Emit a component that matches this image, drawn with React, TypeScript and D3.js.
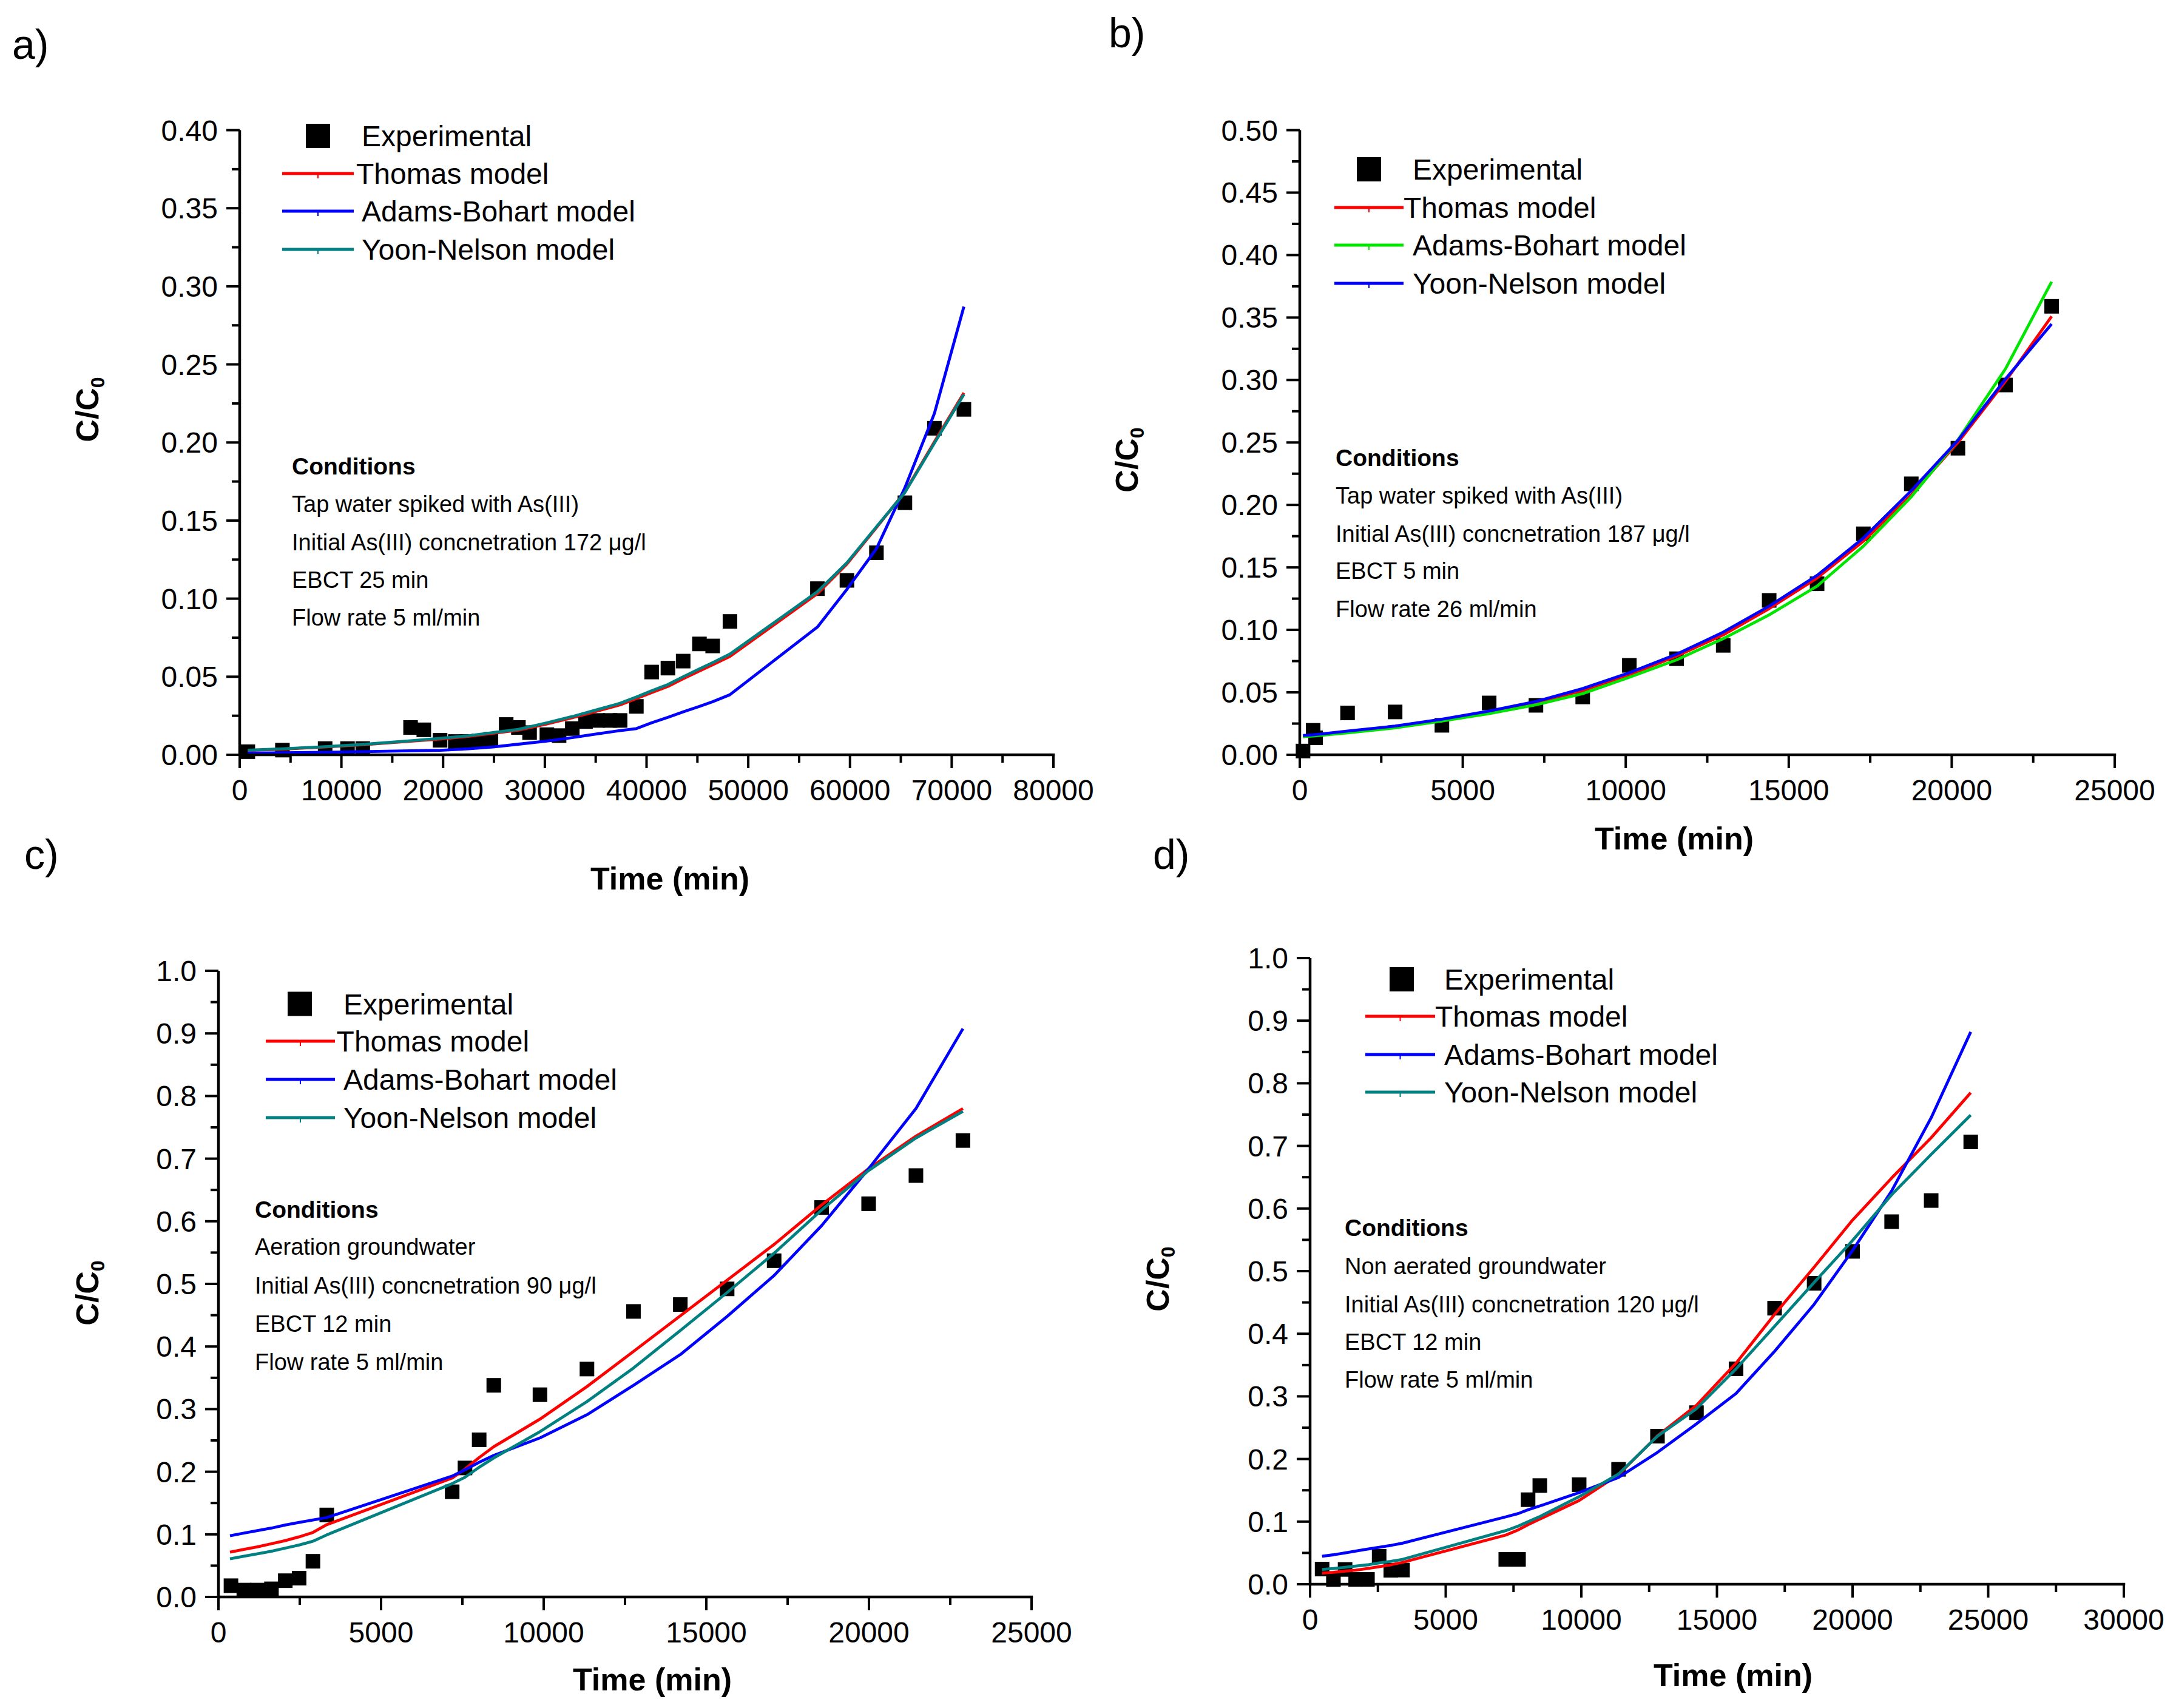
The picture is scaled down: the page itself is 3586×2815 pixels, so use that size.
import React from 'react';
import * as d3 from 'd3';

const FONT = '"Liberation Sans", Arial, Helvetica, sans-serif';

// ---- panel a) ----
const aExpTime = [800, 4200, 8400, 10600, 12100, 16800, 18100, 19700, 21200, 22400, 23500, 24700, 26200, 27400, 28500, 30200, 31400, 32700, 34000, 35200, 36400, 37400, 39000, 40500, 42100, 43600, 45200, 46500, 48200, 56800, 59700, 62600, 65400, 68300, 71200];
const aExpC = [0.002, 0.003, 0.004, 0.004, 0.004, 0.0175, 0.016, 0.0093, 0.0085, 0.0085, 0.0088, 0.010, 0.0194, 0.0175, 0.0142, 0.0129, 0.0123, 0.0168, 0.0213, 0.022, 0.022, 0.022, 0.031, 0.053, 0.0555, 0.060, 0.071, 0.0697, 0.0854, 0.1064, 0.1117, 0.1294, 0.1614, 0.2091, 0.2212];
const aModelTime = [800, 4200, 8400, 12000, 16800, 19700, 22500, 24900, 27400, 30200, 32700, 35200, 37400, 39000, 40500, 42100, 43600, 45200, 46500, 48200, 56800, 59700, 62600, 65400, 68300, 71200];
const aThomas = [0.0028, 0.0036, 0.005, 0.0064, 0.0087, 0.0101, 0.0118, 0.0137, 0.0158, 0.0198, 0.0237, 0.0281, 0.032, 0.036, 0.0398, 0.0438, 0.0487, 0.0537, 0.0577, 0.063, 0.1032, 0.1222, 0.1455, 0.1683, 0.2004, 0.2318];
const aAdams = [0.001, 0.0013, 0.0016, 0.002, 0.0026, 0.0029, 0.0038, 0.005, 0.0068, 0.0088, 0.011, 0.0135, 0.0155, 0.0168, 0.0205, 0.024, 0.0275, 0.031, 0.034, 0.0385, 0.0818, 0.106, 0.132, 0.171, 0.2186, 0.287];
const aYoon = [0.003, 0.0038, 0.0052, 0.0066, 0.009, 0.0105, 0.0122, 0.0142, 0.0163, 0.0205, 0.0245, 0.029, 0.033, 0.037, 0.041, 0.045, 0.05, 0.055, 0.059, 0.0645, 0.1044, 0.123, 0.146, 0.168, 0.1996, 0.2308];
const aXTicks = [0, 10000, 20000, 30000, 40000, 50000, 60000, 70000, 80000];
const aYTicks = [0, 0.05, 0.1, 0.15, 0.2, 0.25, 0.3, 0.35, 0.4];
const aConditions = ['Tap water spiked with As(III)', 'Initial As(III) concnetration 172 μg/l', 'EBCT 25 min', 'Flow rate 5 ml/min'];

// ---- panel b) ----
const bExpTime = [100, 410, 485, 1466, 2925, 4360, 5810, 7245, 8680, 10110, 11560, 12990, 14400, 15870, 17290, 18760, 20190, 21650, 23065];
const bExpC = [0.003, 0.0196, 0.0136, 0.0335, 0.0343, 0.0236, 0.0415, 0.0396, 0.0463, 0.0716, 0.0769, 0.0876, 0.1236, 0.1369, 0.1769, 0.2169, 0.2454, 0.296, 0.359];
const bModelTime = [100, 410, 1470, 2925, 4360, 5810, 7245, 8680, 10110, 11560, 12990, 14400, 15870, 17290, 18760, 20190, 21650, 23065];
const bThomas = [0.0145, 0.0155, 0.0185, 0.022, 0.0275, 0.034, 0.0415, 0.0515, 0.064, 0.079, 0.096, 0.117, 0.1415, 0.171, 0.208, 0.25, 0.299, 0.351];
const bAdams = [0.0145, 0.015, 0.0175, 0.0215, 0.027, 0.033, 0.04, 0.049, 0.062, 0.076, 0.093, 0.112, 0.135, 0.167, 0.2065, 0.252, 0.309, 0.3787];
const bYoon = [0.0155, 0.016, 0.019, 0.023, 0.0285, 0.035, 0.0427, 0.053, 0.0657, 0.0805, 0.0982, 0.119, 0.1436, 0.1735, 0.2114, 0.2517, 0.3008, 0.3448];
const bXTicks = [0, 5000, 10000, 15000, 20000, 25000];
const bYTicks = [0, 0.05, 0.1, 0.15, 0.2, 0.25, 0.3, 0.35, 0.4, 0.45, 0.5];
const bConditions = ['Tap water spiked with As(III)', 'Initial As(III) concnetration 187 μg/l', 'EBCT 5 min', 'Flow rate 26 ml/min'];

// ---- panel c) ----
const cExpTime = [385, 780, 1000, 1200, 1630, 2055, 2480, 2905, 3330, 7186, 7580, 8016, 8465, 9885, 11330, 12760, 14200, 15640, 17085, 18545, 19990, 21445, 22890];
const cExpC = [0.018, 0.011, 0.01, 0.011, 0.013, 0.026, 0.03, 0.057, 0.131, 0.168, 0.206, 0.251, 0.338, 0.323, 0.364, 0.456, 0.467, 0.492, 0.537, 0.622, 0.628, 0.673, 0.729];
const cModelTime = [355, 780, 1200, 1630, 2055, 2480, 2905, 3326, 7185, 7575, 8012, 8465, 9885, 11330, 12760, 14200, 15640, 17085, 18545, 19990, 21445, 22890];
const cThomas = [0.0716, 0.076, 0.08, 0.085, 0.09, 0.096, 0.103, 0.1154, 0.19, 0.204, 0.2225, 0.24, 0.284, 0.336, 0.392, 0.449, 0.506, 0.563, 0.626, 0.684, 0.736, 0.78];
const cAdams = [0.0977, 0.102, 0.106, 0.11, 0.115, 0.119, 0.123, 0.1267, 0.193, 0.203, 0.215, 0.226, 0.254, 0.291, 0.338, 0.387, 0.448, 0.5135, 0.593, 0.684, 0.78, 0.9076];
const cYoon = [0.061, 0.065, 0.069, 0.073, 0.078, 0.083, 0.089, 0.099, 0.181, 0.191, 0.207, 0.222, 0.264, 0.312, 0.3656, 0.4255, 0.4862, 0.549, 0.618, 0.681, 0.733, 0.7756];
const cXTicks = [0, 5000, 10000, 15000, 20000, 25000];
const cYTicks = [0, 0.1, 0.2, 0.3, 0.4, 0.5, 0.6, 0.7, 0.8, 0.9, 1.0];
const cConditions = ['Aeration groundwater', 'Initial As(III) concnetration 90 μg/l', 'EBCT 12 min', 'Flow rate 5 ml/min'];

// ---- panel d) ----
const dExpTime = [443, 860, 1290, 1680, 2115, 2546, 2975, 3407, 7214, 7684, 8037, 8469, 9920, 11373, 12807, 14245, 15704, 17125, 18583, 20000, 21440, 22898, 24356];
const dExpC = [0.0242, 0.0075, 0.0236, 0.0077, 0.0077, 0.0446, 0.0223, 0.0226, 0.0397, 0.0397, 0.135, 0.1576, 0.159, 0.1835, 0.2364, 0.274, 0.344, 0.4408, 0.4806, 0.5316, 0.579, 0.6128, 0.7064];
const dModelTime = [443, 860, 1290, 1680, 2115, 2546, 2975, 3407, 7214, 7684, 8037, 8469, 9920, 11373, 12807, 14245, 15704, 17125, 18583, 20000, 21440, 22898, 24356];
const dThomas = [0.0178, 0.019, 0.021, 0.0225, 0.025, 0.028, 0.031, 0.0349, 0.0785, 0.087, 0.095, 0.104, 0.1337, 0.175, 0.237, 0.2858, 0.353, 0.431, 0.5063, 0.5816, 0.6487, 0.713, 0.785];
const dAdams = [0.0446, 0.047, 0.05, 0.053, 0.056, 0.059, 0.062, 0.0656, 0.1076, 0.113, 0.119, 0.125, 0.1463, 0.1705, 0.2106, 0.2562, 0.3047, 0.372, 0.447, 0.533, 0.628, 0.745, 0.882];
const dYoon = [0.0236, 0.025, 0.027, 0.029, 0.031, 0.034, 0.0365, 0.0397, 0.0856, 0.093, 0.0998, 0.108, 0.1398, 0.176, 0.2364, 0.2804, 0.344, 0.412, 0.482, 0.549, 0.622, 0.6864, 0.7493];
const dXTicks = [0, 5000, 10000, 15000, 20000, 25000, 30000];
const dYTicks = [0, 0.1, 0.2, 0.3, 0.4, 0.5, 0.6, 0.7, 0.8, 0.9, 1.0];
const dConditions = ['Non aerated groundwater', 'Initial As(III) concnetration 120 μg/l', 'EBCT 12 min', 'Flow rate 5 ml/min'];

const RED = '#FF0000';
const BLUE = '#0000FF';
const TEAL = '#008080';
const GREEN = '#00E600';

interface Series {
  name: string;
  color: string;
  time: number[];
  values: number[];
}

interface PanelDef {
  label: string;
  labelX: number;
  labelY: number;
  left: number;
  right: number;
  top: number;
  bottom: number;
  xTicks: number[];
  yTicks: number[];
  yDigits: number;
  expTime: number[];
  expC: number[];
  series: Series[];
  // legend
  sqX: number;
  sqY: number;
  expTextX: number;
  lineX1: number;
  lineX2: number;
  lineYs: number[];
  textXs: number[];
  // conditions
  condX: number;
  condYs: number[];
  conditions: string[];
  // titles
  xTitleX: number;
  xTitleY: number;
  yTitleX: number;
  yTitleY: number;
}

const panels: PanelDef[] = [
  {
    label: 'a)', labelX: 20, labelY: 97,
    left: 395, right: 1736, top: 214.5, bottom: 1244,
    xTicks: aXTicks, yTicks: aYTicks, yDigits: 2,
    expTime: aExpTime, expC: aExpC,
    series: [
      { name: 'Thomas model', color: RED, time: aModelTime, values: aThomas },
      { name: 'Adams-Bohart model', color: BLUE, time: aModelTime, values: aAdams },
      { name: 'Yoon-Nelson model', color: TEAL, time: aModelTime, values: aYoon },
    ],
    sqX: 524, sqY: 224, expTextX: 596, lineX1: 465, lineX2: 583,
    lineYs: [286, 348, 411], textXs: [587, 596, 596],
    condX: 481, condYs: [767.5, 830, 893, 955, 1017], conditions: aConditions,
    xTitleX: 1104, xTitleY: 1447, yTitleX: 162, yTitleY: 675,
  },
  {
    label: 'b)', labelX: 1827, labelY: 78,
    left: 2142, right: 3485, top: 214.5, bottom: 1244,
    xTicks: bXTicks, yTicks: bYTicks, yDigits: 2,
    expTime: bExpTime, expC: bExpC,
    series: [
      { name: 'Thomas model', color: RED, time: bModelTime, values: bThomas },
      { name: 'Adams-Bohart model', color: GREEN, time: bModelTime, values: bAdams },
      { name: 'Yoon-Nelson model', color: BLUE, time: bModelTime, values: bYoon },
    ],
    sqX: 2256, sqY: 279, expTextX: 2328, lineX1: 2199, lineX2: 2313,
    lineYs: [342, 404, 467], textXs: [2313, 2328, 2328],
    condX: 2201, condYs: [753.6, 815.6, 878.5, 940.4, 1003.3], conditions: bConditions,
    xTitleX: 2759, xTitleY: 1381, yTitleX: 1875, yTitleY: 758,
  },
  {
    label: 'c)', labelX: 40, labelY: 1432,
    left: 360, right: 1700, top: 1600, bottom: 2632,
    xTicks: cXTicks, yTicks: cYTicks, yDigits: 1,
    expTime: cExpTime, expC: cExpC,
    series: [
      { name: 'Thomas model', color: RED, time: cModelTime, values: cThomas },
      { name: 'Adams-Bohart model', color: BLUE, time: cModelTime, values: cAdams },
      { name: 'Yoon-Nelson model', color: TEAL, time: cModelTime, values: cYoon },
    ],
    sqX: 494, sqY: 1654.5, expTextX: 566, lineX1: 438, lineX2: 552,
    lineYs: [1716, 1779, 1842], textXs: [554.6, 566, 566],
    condX: 420, condYs: [1993, 2054, 2117.5, 2180.7, 2244], conditions: cConditions,
    xTitleX: 1075, xTitleY: 2767, yTitleX: 162, yTitleY: 2131,
  },
  {
    label: 'd)', labelX: 1900, labelY: 1432,
    left: 2159, right: 3500, top: 1579, bottom: 2611,
    xTicks: dXTicks, yTicks: dYTicks, yDigits: 1,
    expTime: dExpTime, expC: dExpC,
    series: [
      { name: 'Thomas model', color: RED, time: dModelTime, values: dThomas },
      { name: 'Adams-Bohart model', color: BLUE, time: dModelTime, values: dAdams },
      { name: 'Yoon-Nelson model', color: TEAL, time: dModelTime, values: dYoon },
    ],
    sqX: 2310, sqY: 1614, expTextX: 2380, lineX1: 2250, lineX2: 2365,
    lineYs: [1675, 1738, 1800], textXs: [2365, 2380, 2380],
    condX: 2216, condYs: [2022.7, 2086, 2149, 2210.5, 2272.7], conditions: dConditions,
    xTitleX: 2856, xTitleY: 2760, yTitleX: 1926, yTitleY: 2108,
  },
];

const AXIS_W = 4.5;
const MAJOR = 22;
const MINOR = 13;
const TICK_FS = 48;
const LEGEND_FS = 48;
const COND_FS = 38;
const TITLE_FS = 52;
const MARK = 24;

function Panel({ p }: { p: PanelDef }) {
  const xMax = p.xTicks[p.xTicks.length - 1];
  const yMax = p.yTicks[p.yTicks.length - 1];
  const x = d3.scaleLinear().domain([0, xMax]).range([p.left, p.right]);
  const y = d3.scaleLinear().domain([0, yMax]).range([p.bottom, p.top]);
  const line = d3
    .line<[number, number]>()
    .x((d) => x(d[0]))
    .y((d) => y(d[1]));

  // minor ticks halfway between majors
  const xMinor = p.xTicks.slice(1).map((t, i) => (t + p.xTicks[i]) / 2);
  const yMinor = p.yTicks.slice(1).map((t, i) => (t + p.yTicks[i]) / 2);
  const fmt = d3.format(`.${p.yDigits}f`);

  return (
    <g>
      <text x={p.labelX} y={p.labelY} fontSize={68} fontFamily={FONT}>
        {p.label}
      </text>

      {/* experimental points */}
      {p.expTime.map((t, i) => (
        <rect key={'e' + i} x={x(t) - MARK / 2} y={y(p.expC[i]) - MARK / 2} width={MARK} height={MARK} fill="#000" />
      ))}

      {/* model lines */}
      {p.series.map((s) => (
        <path
          key={s.name}
          d={line(s.time.map((t, i) => [t, s.values[i]] as [number, number])) || ''}
          fill="none"
          stroke={s.color}
          strokeWidth={4.8}
          strokeLinejoin="round"
        />
      ))}

      {/* axes */}
      <line x1={p.left} x2={p.right + AXIS_W / 2} y1={p.bottom} y2={p.bottom} stroke="#000" strokeWidth={AXIS_W} />
      <line x1={p.left} x2={p.left} y1={p.bottom + AXIS_W / 2} y2={p.top} stroke="#000" strokeWidth={AXIS_W} />
      {p.xTicks.map((t) => (
        <g key={'xt' + t}>
          <line x1={x(t)} x2={x(t)} y1={p.bottom} y2={p.bottom + MAJOR} stroke="#000" strokeWidth={4} />
          <text x={x(t)} y={p.bottom + 75} fontSize={TICK_FS} fontFamily={FONT} textAnchor="middle">
            {t}
          </text>
        </g>
      ))}
      {xMinor.map((t) => (
        <line key={'xm' + t} x1={x(t)} x2={x(t)} y1={p.bottom} y2={p.bottom + MINOR} stroke="#000" strokeWidth={4} />
      ))}
      {p.yTicks.map((t) => (
        <g key={'yt' + t}>
          <line x1={p.left - MAJOR} x2={p.left} y1={y(t)} y2={y(t)} stroke="#000" strokeWidth={4} />
          <text x={p.left - 36} y={y(t) + 17} fontSize={TICK_FS} fontFamily={FONT} textAnchor="end">
            {fmt(t)}
          </text>
        </g>
      ))}
      {yMinor.map((t) => (
        <line key={'ym' + t} x1={p.left - MINOR} x2={p.left} y1={y(t)} y2={y(t)} stroke="#000" strokeWidth={4} />
      ))}

      {/* axis titles */}
      <text x={p.xTitleX} y={p.xTitleY + 19} fontSize={TITLE_FS} fontWeight="bold" fontFamily={FONT} textAnchor="middle">
        Time (min)
      </text>
      <text
        transform={`translate(${p.yTitleX},${p.yTitleY}) rotate(-90)`}
        fontSize={TITLE_FS}
        fontWeight="bold"
        fontFamily={FONT}
        textAnchor="middle"
      >
        C/C
        <tspan fontSize={32} dy={10}>
          0
        </tspan>
      </text>

      {/* legend */}
      <rect x={p.sqX - 20} y={p.sqY - 20} width={40} height={40} fill="#000" />
      <text x={p.expTextX} y={p.sqY + 17} fontSize={LEGEND_FS} fontFamily={FONT}>
        Experimental
      </text>
      {p.series.map((s, i) => (
        <g key={'lg' + s.name}>
          <line x1={p.lineX1} x2={p.lineX2} y1={p.lineYs[i]} y2={p.lineYs[i]} stroke={s.color} strokeWidth={4.8} />
          <line
            x1={(p.lineX1 + p.lineX2) / 2}
            x2={(p.lineX1 + p.lineX2) / 2}
            y1={p.lineYs[i]}
            y2={p.lineYs[i] + 8}
            stroke={s.color}
            strokeWidth={2}
          />
          <text x={p.textXs[i]} y={p.lineYs[i] + 17} fontSize={LEGEND_FS} fontFamily={FONT}>
            {s.name}
          </text>
        </g>
      ))}

      {/* conditions */}
      <text x={p.condX} y={p.condYs[0] + 14} fontSize={COND_FS + 1} fontWeight="bold" fontFamily={FONT}>
        Conditions
      </text>
      {p.conditions.map((c, i) => (
        <text key={'c' + i} x={p.condX} y={p.condYs[i + 1] + 14} fontSize={COND_FS} fontFamily={FONT}>
          {c}
        </text>
      ))}
    </g>
  );
}

export default function App() {
  return (
    <svg
      width={3586}
      height={2815}
      viewBox="0 0 3586 2815"
      style={{ position: 'absolute', left: 0, top: 0, display: 'block', background: '#fff' }}
    >
      <rect width={3586} height={2815} fill="#fff" />
      {panels.map((p) => (
        <Panel key={p.label} p={p} />
      ))}
    </svg>
  );
}
